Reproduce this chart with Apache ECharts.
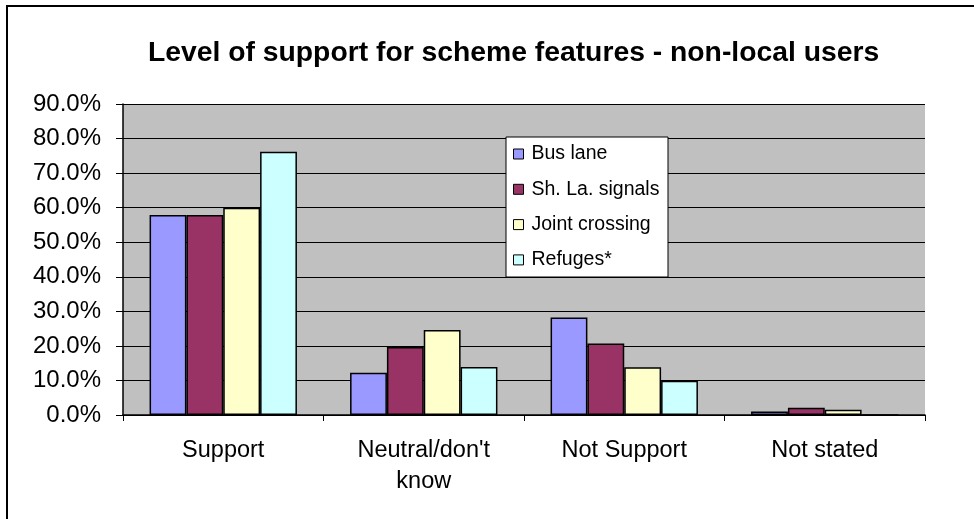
<!DOCTYPE html>
<html>
<head>
<meta charset="utf-8">
<script src="https://cdn.jsdelivr.net/npm/echarts@6/dist/echarts.min.js"></script>
<style>
  html, body { margin: 0; padding: 0; background: #ffffff; }
  #chart { width: 974px; height: 519px; }
</style>
</head>
<body>
<div id="chart"></div>
<script>
// Response categories and share of non-local users (%) per scheme feature
const categories = ['Support', "Neutral/don't\nknow", 'Not Support', 'Not stated'];
const busLane = [57.9, 12.2, 28.2, 1.0];
const sharedLaneSignals = [57.9, 19.7, 20.7, 2.1];
const jointCrossing = [60.0, 24.6, 13.8, 1.5];
const refuges = [76.2, 13.9, 9.9, 0];
const seriesNames = ['Bus lane', 'Sh. La. signals', 'Joint crossing', 'Refuges*'];
const seriesValues = [busLane, sharedLaneSignals, jointCrossing, refuges];
const seriesColors = ['#9999FF', '#993366', '#FFFFCC', '#CCFFFF'];

const FONT = '"Liberation Sans", Arial, sans-serif';

const chart = echarts.init(document.getElementById('chart'), null, { renderer: 'canvas' });

chart.setOption({
  animation: false,
  backgroundColor: '#ffffff',
  title: {
    text: 'Level of support for scheme features - non-local users',
    left: 143,
    top: 34,
    textStyle: { fontFamily: FONT, fontWeight: 'bold', fontSize: 28.3, color: '#000' }
  },
  grid: {
    left: 123, right: 49, top: 104, bottom: 104,
    show: true,
    backgroundColor: '#C0C0C0',
    borderWidth: 0
  },
  legend: {
    orient: 'vertical',
    left: 506,
    top: 137,
    padding: [7, 7, 7, 7],
    itemWidth: 10,
    itemHeight: 10,
    itemGap: 15.3,
    icon: 'rect',
    z: 10,
    itemStyle: { borderColor: '#000', borderWidth: 1 },
    textStyle: { fontFamily: FONT, fontSize: 19.5, color: '#000', lineHeight: 20, padding: [0, 0, 0, 3] },
    data: seriesNames
  },
  xAxis: {
    type: 'category',
    data: categories,
    axisLine: { lineStyle: { color: '#000', width: 1.5 } },
    axisTick: { show: true, length: 6, lineStyle: { color: '#000' } },
    axisLabel: { fontFamily: FONT, fontSize: 23.5, color: '#000', margin: 20, lineHeight: 31 },
    splitLine: { show: false }
  },
  yAxis: {
    type: 'value',
    min: 0,
    max: 90,
    interval: 10,
    axisLine: { show: true, lineStyle: { color: '#000', width: 1.5 } },
    axisTick: { show: true, length: 7, lineStyle: { color: '#000' } },
    axisLabel: {
      fontFamily: FONT, fontSize: 24, color: '#000', margin: 22,
      formatter: v => v.toFixed(1) + '%'
    },
    splitLine: { show: true, lineStyle: { color: '#000', width: 1 } }
  },
  graphic: [
    {
      type: 'rect',
      z: 0,
      silent: true,
      shape: { x: 7, y: 6, width: 1000, height: 600 },
      style: { fill: 'none', stroke: '#000', lineWidth: 2 }
    },
    {
      type: 'rect',
      z: 5,
      silent: true,
      shape: { x: 506, y: 137, width: 162, height: 140 },
      style: { fill: '#ffffff', stroke: '#000', lineWidth: 1 }
    }
  ],
  series: seriesNames.map((name, i) => ({
    name: name,
    type: 'bar',
    data: seriesValues[i],
    barGap: '0%',
    barCategoryGap: '26.5%',
    itemStyle: { color: seriesColors[i], borderColor: '#000', borderWidth: 1.5 }
  }))
});
</script>
</body>
</html>
